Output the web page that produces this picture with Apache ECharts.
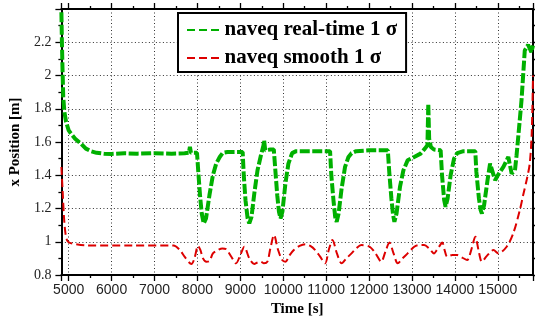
<!DOCTYPE html>
<html lang="en">
<head>
<meta charset="UTF-8">
<title>naveq sigma</title>
<script src="https://cdn.jsdelivr.net/npm/echarts@6/dist/echarts.min.js"></script>
<style>html,body{margin:0;padding:0;background:#fff;}</style>
</head>
<body>
<div id="main" style="width:535px;height:324px;"></div>
<script>
// axis limits
var xMin = 4830, xMax = 15820;
var yMin = 0.8, yMax = 2.4, yStep = 0.2;

// naveq real-time 1 sigma : time [s], sigma [m]
var rtTime = [4830, 4842, 4855, 4873, 4900, 4940, 5000, 5055, 5150, 5286, 5400, 5517, 5650, 5824, 6000, 6300, 6600, 7000, 7400, 7700, 7800, 7825, 7850, 7990,
  8020, 8060, 8100, 8147, 8200, 8280, 8360, 8437, 8520, 8592, 8700, 9054,
  9080, 9120, 9170, 9208, 9260, 9330, 9400, 9480, 9540, 9554, 9580, 9700, 9780,
  9810, 9860, 9900, 9937, 9980, 10050, 10120, 10207, 10300, 11091,
  11120, 11170, 11210, 11245, 11290, 11360, 11440, 11520, 11591, 11700, 12000, 12200, 12437,
  12470, 12520, 12560, 12590, 12640, 12720, 12800, 12899, 13052, 13200, 13300, 13360, 13380, 13400, 13440, 13513, 13668,
  13700, 13750, 13783, 13830, 13900, 13980, 14053, 14200, 14475,
  14500, 14560, 14600, 14629, 14680, 14760, 14820, 14860, 14937, 15000, 15130, 15245, 15322, 15400, 15437,
  15497, 15552, 15590, 15628, 15705, 15782, 15820];
var rtSigma = [2.38, 2.2, 2.05, 1.87, 1.78, 1.72, 1.67, 1.65, 1.62, 1.59, 1.56, 1.545, 1.535, 1.53, 1.528, 1.532, 1.53, 1.533, 1.53, 1.532, 1.535, 1.57, 1.535, 1.535,
  1.42, 1.28, 1.17, 1.11, 1.14, 1.28, 1.40, 1.47, 1.51, 1.535, 1.54, 1.54,
  1.40, 1.25, 1.14, 1.11, 1.15, 1.30, 1.43, 1.52, 1.58, 1.61, 1.55, 1.555, 1.555,
  1.45, 1.28, 1.18, 1.14, 1.18, 1.35, 1.47, 1.533, 1.545, 1.545,
  1.40, 1.25, 1.15, 1.12, 1.17, 1.32, 1.45, 1.51, 1.533, 1.545, 1.55, 1.55, 1.55,
  1.42, 1.26, 1.16, 1.12, 1.17, 1.33, 1.43, 1.49, 1.51, 1.53, 1.56, 1.58, 1.83, 1.62, 1.57, 1.555, 1.55,
  1.40, 1.25, 1.21, 1.26, 1.40, 1.50, 1.533, 1.545, 1.545,
  1.42, 1.26, 1.19, 1.17, 1.22, 1.37, 1.47, 1.48, 1.37, 1.40, 1.45, 1.51, 1.41, 1.43, 1.52,
  1.69, 1.85, 2.0, 2.15, 2.185, 2.14, 2.18];

// naveq smooth 1 sigma : time [s], sigma [m]
var smTime = [4830, 4860, 4890, 4920, 4960, 5016, 5170, 5400, 6500, 7439,
  7593, 7700, 7861, 7930, 8015, 8070, 8130, 8210, 8285, 8361, 8477, 8580, 8668, 8790, 8899, 9000, 9093,
  9208, 9323, 9400, 9477, 9550, 9630, 9700, 9785, 9880, 9976, 10052, 10150, 10246, 10380, 10514, 10630,
  10745, 10860, 10976, 11060, 11146, 11250, 11361, 11470, 11591, 11700, 11822, 12015, 12150, 12283, 12380,
  12475, 12570, 12668, 12780, 12899, 13052, 13160, 13283, 13400, 13513, 13580, 13629, 13706, 13760, 13821,
  13940, 14053, 14170, 14284, 14380, 14476, 14550, 14629, 14745, 14899, 15014, 15206, 15359, 15513, 15590,
  15680, 15744, 15790, 15820];
var smSigma = [1.45, 1.30, 1.15, 1.06, 1.01, 0.995, 0.985, 0.978, 0.977, 0.977,
  0.95, 0.91, 0.866, 0.90, 0.975, 0.95, 0.90, 0.88, 0.885, 0.93, 0.95, 0.96, 0.955, 0.91, 0.87, 0.92, 0.97,
  0.90, 0.866, 0.875, 0.88, 0.87, 0.88, 0.96, 1.04, 0.95, 0.89, 0.88, 0.92, 0.95, 0.975, 0.985, 0.975,
  0.95, 0.91, 0.87, 0.95, 1.01, 0.93, 0.87, 0.90, 0.93, 0.96, 0.98, 0.97, 0.93, 0.88, 0.94,
  0.995, 0.93, 0.87, 0.90, 0.93, 0.97, 0.98, 0.98, 0.96, 0.93, 0.95, 0.97, 0.995, 0.95, 0.91,
  0.92, 0.92, 0.905, 0.89, 0.95, 1.03, 0.95, 0.88, 0.915, 0.95, 0.93, 0.97, 1.05, 1.19, 1.28,
  1.38, 1.47, 1.65, 2.0];

var green = '#00b000';
var red = '#dd0000';

function pairs(xs, ys) {
  return xs.map(function (x, i) { return [x, ys[i]]; });
}

var myChart = echarts.init(document.getElementById('main'));

var tickStyle = {show: true, inside: false, length: 6, lineStyle: {color: '#000', width: 1.3}};
var minorStyle = {show: true, splitNumber: 2, length: 3, lineStyle: {color: '#000', width: 1.3}};
var lineAxis = {show: true, onZero: false, lineStyle: {color: '#000', width: 2}};
var gridLine = {show: true, lineStyle: {color: '#333', width: 1, type: [1, 2.5]}};
// legend sample: three short dashes
var dashIcon = 'path://M0 0H8V2H0Z M12 0H20V2H12Z M24 0H32V2H24Z';

myChart.setOption({
  backgroundColor: '#fff',
  animation: false,
  grid: {left: 57, right: 2, top: 9, bottom: 49},
  legend: {
    orient: 'vertical',
    left: 178,
    top: 13,
    padding: [6, 9, 3, 9],
    itemGap: 6,
    itemWidth: 33,
    itemHeight: 2,
    icon: dashIcon,
    backgroundColor: '#fff',
    borderColor: '#000',
    borderWidth: 2,
    borderRadius: 0,
    textStyle: {fontFamily: 'Liberation Serif', fontWeight: 'bold', fontSize: 21, color: '#000', lineHeight: 22},
    data: ['naveq real-time 1 σ', 'naveq smooth 1 σ']
  },
  xAxis: [{
    type: 'value',
    min: xMin,
    max: xMax,
    splitNumber: 10,
    name: 'Time [s]',
    nameLocation: 'middle',
    nameGap: 27,
    nameTextStyle: {fontFamily: 'Liberation Serif', fontWeight: 'bold', fontSize: 15, color: '#000'},
    axisLine: lineAxis,
    axisTick: tickStyle,
    minorTick: minorStyle,
    axisLabel: {
      showMinLabel: false, showMaxLabel: false, margin: 8,
      fontFamily: 'Liberation Sans', fontSize: 14, color: '#222',
      formatter: function (v) { return String(v); }
    },
    splitLine: gridLine
  }, {
    type: 'value',
    position: 'top',
    min: xMin,
    max: xMax,
    splitNumber: 10,
    axisLine: lineAxis,
    axisTick: tickStyle,
    minorTick: minorStyle,
    axisLabel: {show: false},
    splitLine: {show: false}
  }],
  yAxis: [{
    type: 'value',
    min: yMin,
    max: yMax,
    interval: yStep,
    name: 'x Position [m]',
    nameLocation: 'middle',
    nameGap: 33,
    nameTextStyle: {fontFamily: 'Liberation Serif', fontWeight: 'bold', fontSize: 15, color: '#000'},
    axisLine: lineAxis,
    axisTick: tickStyle,
    minorTick: minorStyle,
    axisLabel: {showMaxLabel: false, margin: 10, fontFamily: 'Liberation Serif', fontSize: 14, color: '#222'},
    splitLine: gridLine
  }, {
    type: 'value',
    position: 'right',
    min: yMin,
    max: yMax,
    interval: yStep,
    axisLine: lineAxis,
    axisTick: tickStyle,
    minorTick: minorStyle,
    axisLabel: {show: false},
    splitLine: {show: false}
  }],
  series: [{
    name: 'naveq real-time 1 σ',
    type: 'line',
    symbol: 'none',
    data: pairs(rtTime, rtSigma),
    itemStyle: {color: green},
    lineStyle: {color: green, width: 4, type: [10, 2.5]},
    z: 3
  }, {
    name: 'naveq smooth 1 σ',
    type: 'line',
    symbol: 'none',
    smooth: 0.3,
    data: pairs(smTime, smSigma),
    itemStyle: {color: red},
    lineStyle: {color: red, width: 2, type: [8, 4]},
    z: 2
  }]
});
</script>
</body>
</html>
